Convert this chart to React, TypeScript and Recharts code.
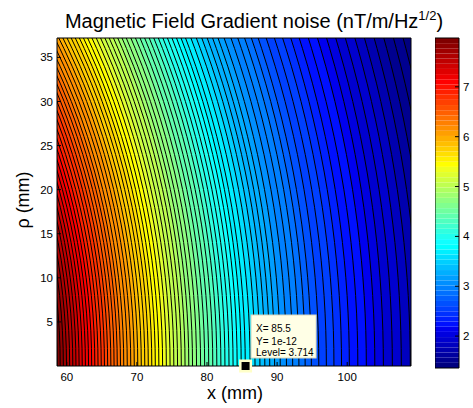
import React from "react";
import {
  ComposedChart,
  Area,
  XAxis,
  YAxis,
  ReferenceArea,
  ReferenceDot,
} from "recharts";

const FONT = '"Liberation Sans", Arial, sans-serif';

// field level along the bottom edge (rho = 0).
// the contours are circles about the origin, so level depends on the radius.
const profileRadius = [58.5, 64, 68, 73, 78, 85.5, 90, 95, 100, 105, 109, 115.5];
const profileLevel = [7.98, 7.0, 6.3, 5.5, 4.75, 3.714, 3.2, 2.75, 2.38, 2.05, 1.8, 1.4];

// contourf levels
const levelFirst = 1.4;
const levelStep = 0.08;
const levelCount = 83;

// rho values at which each contour is sampled
const rhoSamples = [0, 2, 4, 6, 8, 10, 12, 14, 16, 18, 20, 22, 24, 26, 28, 30, 32, 34, 36, 37.2];

const xTicks = [60, 70, 80, 90, 100];
const yTicks = [5, 10, 15, 20, 25, 30, 35];
const colorbarTicks = [2, 3, 4, 5, 6, 7];

const xRange = [58.6, 109.1];
const rhoRange = [0, 37.2];
const colorRange = [1.36, 7.98];

// data cursor
const tipX = 85.5;
const tipY = "1e-12";
const tipLevel = 3.714;

// matlab jet(64)
const jetU = (k: number) =>
  k <= 0 || k > 47 ? 0 : k <= 16 ? k / 16 : k <= 31 ? 1 : (48 - k) / 16;
const jet = (i: number) => {
  const r = jetU(i - 24);
  const g = jetU(i - 8);
  const b = i <= 39 ? jetU(i + 7) : 0;
  const h = (v: number) => Math.round(v * 255).toString(16).padStart(2, "0");
  return `#${h(r)}${h(g)}${h(b)}`;
};
const colorFor = (v: number) => {
  const t = (v - colorRange[0]) / (colorRange[1] - colorRange[0]);
  const i = Math.min(64, Math.max(1, Math.floor(t * 64) + 1));
  return jet(i);
};

const radiusFor = (lv: number) => {
  for (let i = 0; i < profileLevel.length - 1; i++) {
    const a = profileLevel[i];
    const b = profileLevel[i + 1];
    if (lv <= a && lv >= b) {
      return profileRadius[i] + ((a - lv) / (a - b)) * (profileRadius[i + 1] - profileRadius[i]);
    }
  }
  return null;
};

const levels = Array.from({ length: levelCount }, (_, k) => +(levelFirst + k * levelStep).toFixed(3))
  .filter((lv) => radiusFor(lv) !== null);
const radii = levels.map((lv) => radiusFor(lv) as number);

const rows = rhoSamples.map((rho) => {
  const row: Record<string, number> = { rho, bg: 200 };
  radii.forEach((r, k) => {
    row[`c${k}`] = Math.sqrt(r * r - rho * rho);
  });
  return row;
});

const colorbarSteps = Array.from({ length: 64 }, (_, i) => ({
  lo: colorRange[0] + (i * (colorRange[1] - colorRange[0])) / 64,
  hi: colorRange[0] + ((i + 1) * (colorRange[1] - colorRange[0])) / 64,
  color: jet(i + 1),
}));

const tickStyle = { fill: "#000", fontSize: 11.5, fontFamily: FONT };

const DatatipShape = (props: any) => {
  const { cx, cy } = props;
  const bx = cx + 5.5;
  const by = cy - 51;
  return (
    <g>
      <rect x={bx} y={by} width={65} height={43} fill="#ffffe6" stroke="#d8d8c0" strokeWidth={1} />
      <text x={bx + 5} y={by + 16.5} fontSize={10} fontFamily={FONT} fill="#000">{`X= ${tipX}`}</text>
      <text x={bx + 5} y={by + 29.5} fontSize={10} fontFamily={FONT} fill="#000">{`Y= ${tipY}`}</text>
      <text x={bx + 5} y={by + 41} fontSize={10} fontFamily={FONT} fill="#000">{`Level= ${tipLevel}`}</text>
      <rect x={cx - 6.5} y={cy - 6.5} width={13} height={13} fill="#ffffc8" />
      <rect x={cx - 4} y={cy - 4} width={8} height={8} fill="#000" />
    </g>
  );
};

export default function App() {
  return (
    <div
      style={{
        position: "absolute",
        left: 0,
        top: 0,
        width: 473,
        height: 408,
        background: "#fff",
        fontFamily: FONT,
      }}
    >
      <div style={{ position: "absolute", left: 0, top: 0 }}>
        <ComposedChart
          width={473}
          height={408}
          data={rows}
          layout="vertical"
          margin={{ top: 38, right: 62, bottom: 0, left: 0 }}
        >
          <Area
            dataKey="bg"
            type="linear"
            baseValue={20}
            fill={colorFor(colorRange[0])}
            fillOpacity={1}
            stroke="none"
            isAnimationActive={false}
            dot={false}
            activeDot={false}
          />
          {levels.map((lv, k) => (
            <Area
              key={k}
              dataKey={`c${k}`}
              type="monotone"
              baseValue={20}
              fill={colorFor(lv)}
              fillOpacity={1}
              stroke="#000"
              strokeWidth={1}
              isAnimationActive={false}
              dot={false}
              activeDot={false}
            />
          ))}
          <XAxis
            type="number"
            domain={xRange}
            allowDataOverflow
            ticks={xTicks}
            height={42}
            tickSize={-4}
            tickMargin={11}
            tick={tickStyle}
            axisLine={false}
            tickLine={{ stroke: "#000" }}
          />
          <YAxis
            type="number"
            dataKey="rho"
            domain={rhoRange}
            allowDataOverflow
            reversed
            ticks={yTicks}
            width={57}
            tickSize={-4}
            tickMargin={8}
            tick={tickStyle}
            axisLine={false}
            tickLine={{ stroke: "#000" }}
          />
          <ReferenceArea
            x1={xRange[0]}
            x2={xRange[1]}
            y1={rhoRange[0]}
            y2={rhoRange[1]}
            fill="none"
            stroke="#000"
            strokeWidth={1}
            ifOverflow="visible"
            zIndex={1500}
          />
          <ReferenceDot
            x={tipX}
            y={0}
            ifOverflow="visible"
            shape={DatatipShape}
            zIndex={1600}
          />
        </ComposedChart>
      </div>

      <div style={{ position: "absolute", left: 435, top: 0 }}>
        <ComposedChart
          width={38}
          height={408}
          data={colorbarSteps}
          margin={{ top: 38, right: 0, bottom: 40, left: 0 }}
        >
          <XAxis hide />
          {colorbarSteps.map((s, i) => (
            <ReferenceArea
              key={i}
              y1={s.lo}
              y2={s.hi}
              fill={s.color}
              fillOpacity={1}
              stroke="none"
            />
          ))}
          <YAxis
            type="number"
            orientation="right"
            domain={colorRange}
            allowDataOverflow
            ticks={colorbarTicks}
            width={14}
            tickSize={-4}
            tickMargin={8}
            tick={tickStyle}
            axisLine={false}
            tickLine={{ stroke: "#000" }}
          />
          <ReferenceArea
            y1={colorRange[0]}
            y2={colorRange[1]}
            fill="none"
            stroke="#000"
            strokeWidth={1}
            zIndex={1500}
          />
        </ComposedChart>
      </div>

      <svg
        width={473}
        height={408}
        style={{ position: "absolute", left: 0, top: 0, pointerEvents: "none" }}
      >
        <text x={254} y={28} textAnchor="middle" fontSize={20} fontFamily={FONT} fill="#000">
          Magnetic Field Gradient noise (nT/m/Hz
          <tspan fontSize={13} dy={-8}>1/2</tspan>
          <tspan dy={8}>)</tspan>
        </text>
        <text x={235} y={399} textAnchor="middle" fontSize={18} fontFamily={FONT} fill="#000">
          x (mm)
        </text>
        <text
          x={0}
          y={0}
          transform="translate(29,200) rotate(-90)"
          textAnchor="middle"
          fontSize={18}
          fontFamily={FONT}
          fill="#000"
        >
          ρ (mm)
        </text>
      </svg>
    </div>
  );
}
